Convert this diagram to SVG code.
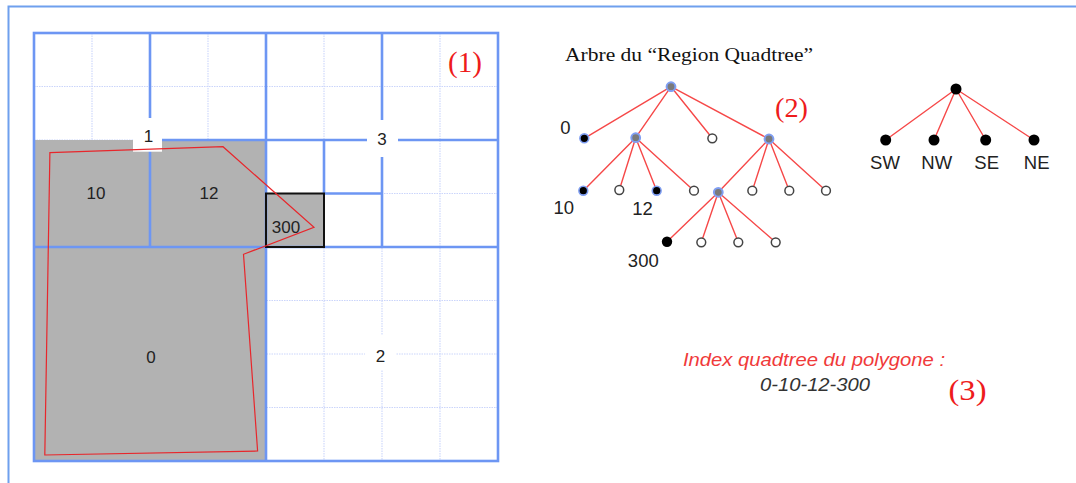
<svg xmlns="http://www.w3.org/2000/svg" width="1076" height="483" viewBox="0 0 1076 483">
<style>
.fine{stroke:#cbd5fb;stroke-width:1.1;stroke-dasharray:1.5 1;fill:none}
.thick{stroke:#6d96f3;stroke-width:2.6;fill:none}
.lbl{font-family:"Liberation Sans",Arial,sans-serif;font-size:17px;fill:#222;text-anchor:middle}
.tl{font-family:"Liberation Sans",Arial,sans-serif;font-size:18.5px;fill:#222;text-anchor:middle}
.num{font-family:"Liberation Serif","Times New Roman",serif;fill:#ee1c1c}
.edge{stroke:#f64848;stroke-width:1.4;fill:none}
.gray{fill:#7a7a7a;stroke:#7f9ef2;stroke-width:2}
.blk{fill:#000;stroke:#7f9ef2;stroke-width:1.6}
.blk2{fill:#000}
.open{fill:#fff;stroke:#444;stroke-width:1.5}
</style>
<rect width="1076" height="483" fill="#fff"/>
<g id="frame"><polyline points="8.5,483 8.5,6.5 1076,6.5" fill="none" stroke="#6fa0ee" stroke-width="2"/></g>
<g id="grid">
<g class="fine">
<path d="M92 33V461M150 33V461M208 33V461M266 33V461M324 33V461M382 33V461M440 33V461"/>
<path d="M34 86.5H498M34 140H498M34 193.5H498M34 247H498M34 300.5H498M34 354H498M34 407.5H498"/>
</g>
<path d="M34 140H266V461H34Z" fill="#b2b2b2"/>
<rect x="266" y="193.5" width="58" height="53.5" fill="#b2b2b2"/>
<g class="thick">
<rect x="34" y="33" width="464" height="428"/>
<path d="M266 33V461M34 247H498"/>
<path d="M150 33V247M150 140H266"/>
<path d="M382 33V247M266 140H498"/>
<path d="M324 140V193.5H382"/>
</g>
<rect x="266" y="193.5" width="58" height="53.5" fill="none" stroke="#111" stroke-width="2"/>
<rect x="133" y="118" width="29" height="33.7" fill="#fff"/>
<rect x="367" y="120" width="31" height="37" fill="#fff"/>
<rect x="365" y="335" width="31" height="35" fill="#fff"/>
<polygon points="49.9,152.7 223,146.7 314,227.3 243.5,254.3 257.6,451 44.8,455" fill="none" stroke="#e8262b" stroke-width="1.2"/>
<text class="lbl" x="148.5" y="142">1</text>
<text class="lbl" x="382" y="145">3</text>
<text class="lbl" x="96" y="199">10</text>
<text class="lbl" x="209" y="199">12</text>
<text class="lbl" x="286" y="233">300</text>
<text class="lbl" x="151" y="363">0</text>
<text class="lbl" x="380.5" y="361.5">2</text>
<text class="num" x="448" y="72" font-size="29" textLength="34" lengthAdjust="spacingAndGlyphs">(1)</text>
</g>
<text x="565" y="60.7" font-family="Liberation Serif,'Times New Roman',serif" font-size="18.5" fill="#111" textLength="248" lengthAdjust="spacingAndGlyphs">Arbre du “Region Quadtree”</text>
<text class="num" x="775" y="117" font-size="28" textLength="33" lengthAdjust="spacingAndGlyphs">(2)</text>
<g id="connectors">
<path class="edge" d="M671 86.7L584.3 138.3M671 86.7L635.7 137.7M671 86.7L712.3 138.3M671 86.7L769 139"/>
<path class="edge" d="M635.7 137.7L583.3 190.7M635.7 137.7L619.3 190M635.7 137.7L656.7 190.7M635.7 137.7L694 190.7"/>
<path class="edge" d="M769 139L718.3 192.3M769 139L752.3 190.7M769 139L789.3 190.7M769 139L826 190.7"/>
<path class="edge" d="M718.3 192.3L667 241.7M718.3 192.3L701.3 242.3M718.3 192.3L738.3 242.3M718.3 192.3L775.7 242.3"/>
<path class="edge" d="M956 89L885.7 140M956 89L934 140M956 89L985.7 140M956 89L1034 140"/>
</g>
<g id="n-root"><circle class="gray" cx="671" cy="86.7" r="4.4"/></g>
<g id="n-0"><circle class="blk" cx="584.3" cy="138.3" r="4.4"/><text class="tl" x="565.5" y="134">0</text></g>
<g id="n-1"><circle class="gray" cx="635.7" cy="137.7" r="4.4"/></g>
<g id="n-2"><circle class="open" cx="712.3" cy="138.3" r="4.4"/></g>
<g id="n-3"><circle class="gray" cx="769" cy="139" r="4.4"/></g>
<g id="n-10"><circle class="blk" cx="583.3" cy="190.7" r="4.4"/><text class="tl" x="563.7" y="214">10</text></g>
<g id="n-11"><circle class="open" cx="619.3" cy="190" r="4.4"/></g>
<g id="n-12"><circle class="blk" cx="656.7" cy="190.7" r="4.4"/><text class="tl" x="642.5" y="215">12</text></g>
<g id="n-13"><circle class="open" cx="694" cy="190.7" r="4.4"/></g>
<g id="n-30"><circle class="gray" cx="718.3" cy="192.3" r="4.4"/></g>
<g id="n-31"><circle class="open" cx="752.3" cy="190.7" r="4.4"/></g>
<g id="n-32"><circle class="open" cx="789.3" cy="190.7" r="4.4"/></g>
<g id="n-33"><circle class="open" cx="826" cy="190.7" r="4.4"/></g>
<g id="n-300"><circle class="blk2" cx="667" cy="241.7" r="5.2"/><text class="tl" x="643.3" y="266.5">300</text></g>
<g id="n-301"><circle class="open" cx="701.3" cy="242.3" r="4.4"/></g>
<g id="n-302"><circle class="open" cx="738.3" cy="242.3" r="4.4"/></g>
<g id="n-303"><circle class="open" cx="775.7" cy="242.3" r="4.4"/></g>
<g id="r-root"><circle class="blk2" cx="956" cy="89" r="5.5"/></g>
<g id="r-sw"><circle class="blk2" cx="885.7" cy="140" r="5.5"/><text class="tl" x="885" y="169.3" font-size="19">SW</text></g>
<g id="r-nw"><circle class="blk2" cx="934" cy="140" r="5.5"/><text class="tl" x="936.7" y="169.3" font-size="19">NW</text></g>
<g id="r-se"><circle class="blk2" cx="985.7" cy="140" r="5.5"/><text class="tl" x="986.7" y="169.3" font-size="19">SE</text></g>
<g id="r-ne"><circle class="blk2" cx="1034" cy="140" r="5.5"/><text class="tl" x="1036.7" y="169.3" font-size="19">NE</text></g>
<g id="caption">
<text x="683" y="366" font-family="Liberation Sans,Arial,sans-serif" font-style="italic" font-size="18" fill="#f03a3a" textLength="262" lengthAdjust="spacingAndGlyphs">Index quadtree du polygone :</text>
<text x="760" y="391" font-family="Liberation Sans,Arial,sans-serif" font-style="italic" font-size="18" fill="#333" textLength="110" lengthAdjust="spacingAndGlyphs">0-10-12-300</text>
<text class="num" x="948.5" y="399.5" font-size="30" textLength="38" lengthAdjust="spacingAndGlyphs">(3)</text>
</g>
</svg>
